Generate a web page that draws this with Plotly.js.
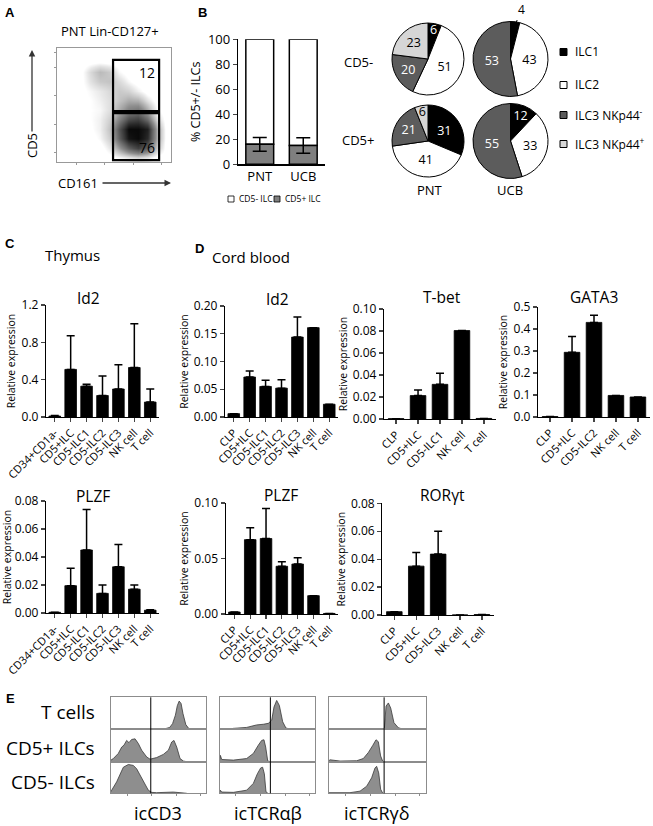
<!DOCTYPE html>
<html>
<head>
<meta charset="utf-8">
<script src="https://cdn.plot.ly/plotly-3.0.1.min.js"></script>
<style>body{margin:0;background:#fff}#fig{width:653px;height:826px}</style>
</head>
<body>
<div id="fig"></div>
<script>
const W = 653, H = 826;
const FONT = 'Open Sans, sans-serif';

// A: dot plot density, 12x12 grid, row 0 = bottom (CD161 across, CD5 up)
const densityA = [
  [0,0,0,0,0,0,0.05,0.1,0.15,0.1,0,0],
  [0,0,0,0,0,0.1,0.35,0.6,0.75,0.6,0.2,0],
  [0,0,0,0,0.06,0.18,0.6,0.95,1,0.85,0.3,0],
  [0,0,0,0.03,0.08,0.22,0.65,1,1,0.9,0.3,0],
  [0,0,0.02,0.04,0.08,0.18,0.45,0.7,0.75,0.55,0.15,0],
  [0,0,0.02,0.04,0.06,0.13,0.3,0.45,0.5,0.3,0.05,0],
  [0,0,0.02,0.04,0.08,0.13,0.22,0.3,0.28,0.12,0,0],
  [0,0,0.02,0.06,0.1,0.15,0.2,0.17,0.08,0,0,0],
  [0,0,0.02,0.12,0.2,0.22,0.15,0.06,0,0,0,0],
  [0,0,0.02,0.15,0.25,0.2,0.06,0,0,0,0,0],
  [0,0,0,0.02,0.04,0.02,0,0,0,0,0,0],
  [0,0,0,0,0,0,0,0,0,0,0,0]
];
const gateX = [5.4, 10.25];
const gateHighY = [4.87, 10.25];
const gateLowY = [-0.3, 4.65];
const gatePct = [12, 76];

// B
const donors = ['PNT', 'UCB'];
const cd5posPct = [16, 15];
const cd5posErr = [5.5, 6.2];

// pies
const pieLabels = ['ILC1', 'ILC2', 'ILC3 NKp44<sup>-</sup>', 'ILC3 NKp44<sup>+</sup>'];
const pieColors = ['#000000', '#ffffff', '#5c5c5c', '#d6d6d6'];
const pieTextColors = ['white', 'black', 'white', 'black'];
const pntNeg = [6, 51, 20, 23];
const ucbNeg = [4, 43, 53, 0];
const pntPos = [31, 41, 21, 6];
const ucbPos = [12, 33, 55, 0];

// C thymus
const thyCats = ['CD34+CD1a-', 'CD5+ILC', 'CD5-ILC1', 'CD5-ILC2', 'CD5-ILC3', 'NK cell', 'T cell'];
const thyId2 = [0.01, 0.51, 0.33, 0.23, 0.30, 0.53, 0.16];
const thyId2Err = [0.005, 0.36, 0.02, 0.21, 0.26, 0.47, 0.14];
const thyPlzf = [0.0005, 0.0195, 0.045, 0.014, 0.033, 0.017, 0.002];
const thyPlzfErr = [0, 0.0125, 0.029, 0.006, 0.016, 0.003, 0.0003];

// D cord blood
const cbCats = ['CLP', 'CD5+ILC', 'CD5-ILC1', 'CD5-ILC2', 'CD5-ILC3', 'NK cell', 'T cell'];
const cbId2 = [0.006, 0.072, 0.055, 0.052, 0.144, 0.161, 0.023];
const cbId2Err = [0, 0.011, 0.011, 0.015, 0.036, 0, 0];
const cbPlzf = [0.0018, 0.067, 0.068, 0.043, 0.045, 0.0165, 0.0005];
const cbPlzfErr = [0, 0.0106, 0.027, 0.004, 0.0056, 0, 0];
const tbetCats = ['CLP', 'CD5+ILC', 'CD5-ILC1', 'NK cell', 'T cell'];
const tbet = [0.0003, 0.0213, 0.0315, 0.0804, 0.0005];
const tbetErr = [0, 0.005, 0.01, 0, 0];
const gataCats = ['CLP', 'CD5+ILC', 'CD5-ILC2', 'NK cell', 'T cell'];
const gata3 = [0.002, 0.294, 0.43, 0.098, 0.091];
const gata3Err = [0, 0.072, 0.032, 0, 0];
const rorCats = ['CLP', 'CD5+ILC', 'CD5-ILC3', 'NK cell', 'T cell'];
const rorgt = [0.0024, 0.035, 0.0436, 0, 0.0003];
const rorgtErr = [0, 0.0098, 0.0164, 0, 0];

// E histograms (x = fraction of box width, y = fraction of row height)
const histRows = ['T cells', 'CD5+ ILCs', 'CD5- ILCs'];
const histStains = ['icCD3', 'icTCRαβ', 'icTCRγδ'];
const gatePos = [0.42, 0.53, 0.57];
const cd3TX = [0.55,0.58,0.62,0.65,0.68,0.7,0.72,0.74,0.76,0.79,0.82,0.85];
const cd3TY = [0,0.02,0.06,0.18,0.45,0.75,0.9,0.82,0.5,0.15,0.03,0];
const cd3PosX = [0,0.025,0.077,0.113,0.137,0.165,0.19,0.218,0.254,0.289,0.324,0.377,0.412,0.482,0.553,0.606,0.641,0.665,0.694,0.729,0.764,0.8];
const cd3PosY = [0.05,0.1,0.26,0.46,0.52,0.67,0.6,0.7,0.72,0.57,0.36,0.15,0.08,0.13,0.23,0.36,0.62,0.67,0.46,0.1,0.02,0];
const cd3NegX = [0,0.007,0.06,0.095,0.13,0.183,0.236,0.271,0.306,0.349,0.394,0.43,0.482,0.658,0.729,0.8];
const cd3NegY = [0.05,0.1,0.37,0.63,0.84,0.93,0.9,0.79,0.58,0.32,0.1,0.03,0.02,0.04,0.01,0];
const abTX = [0.1,0.143,0.282,0.387,0.456,0.509,0.544,0.568,0.596,0.624,0.659,0.693,0.735];
const abTY = [0,0.03,0.06,0.14,0.16,0.19,0.29,0.71,0.92,0.76,0.24,0.04,0.01];
const abPosX = [0,0.007,0.021,0.143,0.282,0.352,0.404,0.439,0.463,0.481,0.502,0.52];
const abPosY = [0.05,0.2,0.07,0.05,0.1,0.26,0.52,0.67,0.69,0.46,0.03,0];
const abNegX = [0,0.007,0.021,0.143,0.282,0.352,0.394,0.429,0.449,0.467,0.484,0.502];
const abNegY = [0.04,0.1,0.04,0.03,0.1,0.32,0.63,0.82,0.84,0.63,0.05,0.01];
const gdTX = [0.572,0.579,0.59,0.614,0.638,0.672,0.717,0.769];
const gdTY = [0,0.3,0.74,0.84,0.68,0.21,0.05,0];
const gdPosX = [0,0.01,0.114,0.286,0.355,0.407,0.452,0.486,0.51,0.534,0.555];
const gdPosY = [0.03,0.06,0.02,0.03,0.1,0.29,0.51,0.69,0.63,0.18,0.02];
const gdNegX = [0,0.01,0.217,0.321,0.39,0.441,0.476,0.493,0.514,0.534,0.555];
const gdNegY = [0.02,0.02,0.02,0.07,0.23,0.5,0.82,0.87,0.66,0.13,0.01];

const data = [];
const layout = {
  width: W, height: H,
  margin: {l: 0, r: 0, t: 0, b: 0},
  showlegend: false,
  barmode: 'overlay',
  paper_bgcolor: 'white',
  plot_bgcolor: 'rgba(0,0,0,0)',
  font: {family: FONT, color: 'black'},
  uniformtext: {mode: 'show', minsize: 12},
  annotations: [],
  shapes: []
};

function px(x) { return x / W; }
function py(y) { return 1 - y / H; }

let axN = 0;
function newAxes(x0, x1, top, bot, xopt, yopt) {
  axN++;
  const s = axN === 1 ? '' : String(axN);
  layout['xaxis' + s] = Object.assign({domain: [px(x0), px(x1)], anchor: 'y' + s, fixedrange: true}, xopt);
  layout['yaxis' + s] = Object.assign({domain: [py(bot), py(top)], anchor: 'x' + s, fixedrange: true}, yopt);
  return {x: 'x' + s, y: 'y' + s};
}

function label(x, y, t, size, opt) {
  layout.annotations.push(Object.assign({
    xref: 'paper', yref: 'paper', x: px(x), y: py(y), text: t, showarrow: false,
    font: {size: size}, xanchor: 'center', yanchor: 'middle'
  }, opt || {}));
}

const LETTER = {size: 13, family: 'Liberation Sans, Arial, sans-serif', weight: 'bold'};
label(10, 12, 'A', 13, {font: LETTER});
label(202, 12, 'B', 13, {font: LETTER});
label(10, 243, 'C', 13, {font: LETTER});
label(200, 248, 'D', 13, {font: LETTER});
label(10, 698, 'E', 13, {font: LETTER});

// ---- A
const axA = newAxes(57, 171, 48, 162,
  {range: [-0.5, 11.5], showline: true, mirror: true, linecolor: '#999', linewidth: 1,
   ticks: 'outside', ticklen: 2, tickcolor: '#999', tickvals: [1.5, 4.5, 7.5, 10.5],
   showticklabels: false, showgrid: false, zeroline: false},
  {range: [-0.5, 11.5], showline: true, mirror: true, linecolor: '#999', linewidth: 1,
   ticks: 'outside', ticklen: 2, tickcolor: '#999', tickvals: [0.5, 3.5, 6.5, 9.5, 11],
   showticklabels: false, showgrid: false, zeroline: false});
data.push({
  type: 'heatmap', z: densityA, xaxis: axA.x, yaxis: axA.y, zmin: 0, zmax: 1,
  zsmooth: 'best', showscale: false, hoverinfo: 'skip',
  colorscale: [[0, '#ffffff'], [0.04, '#ffffff'], [0.1, '#e8e8e8'], [0.4, '#8c8c8c'], [1, '#0a0a0a']]
});
[gateHighY, gateLowY].forEach((gy, i) => {
  layout.shapes.push({type: 'rect', xref: axA.x, yref: axA.y, x0: gateX[0], x1: gateX[1],
    y0: gy[0], y1: gy[1], line: {color: 'black', width: 2.2}});
  layout.annotations.push({xref: axA.x, yref: axA.y, x: gateX[1], y: i === 0 ? gy[1] : gy[0],
    xanchor: 'right', yanchor: i === 0 ? 'top' : 'bottom', xshift: -2, yshift: i === 0 ? -1 : 1,
    text: String(gatePct[i]), showarrow: false, font: {size: 14}});
});
label(110, 31, 'PNT Lin-CD127+', 13);
label(32, 146, 'CD5', 13, {textangle: -90});
label(78, 183, 'CD161', 13);
layout.annotations.push({xref: 'paper', yref: 'paper', x: px(32), y: py(50), ax: 0, ay: 83,
  text: '', showarrow: true, arrowhead: 2, arrowsize: 1, arrowwidth: 1.3, arrowcolor: '#333'});
layout.annotations.push({xref: 'paper', yref: 'paper', x: px(171), y: py(183), ax: -70, ay: 0,
  text: '', showarrow: true, arrowhead: 2, arrowsize: 1, arrowwidth: 1.3, arrowcolor: '#333'});

// ---- B
const axB = newAxes(238, 325, 39.3, 164.3,
  {type: 'category', range: [-0.5, 1.5], showline: true, linecolor: 'black', linewidth: 1.2,
   ticks: '', tickfont: {size: 13}, showgrid: false, zeroline: false},
  {range: [0, 100], dtick: 20, showline: true, linecolor: 'black', linewidth: 1.2,
   ticks: 'outside', ticklen: 4, tickwidth: 1.2, tickfont: {size: 13}, showgrid: false, zeroline: false,
   title: {text: '% CD5+/- ILCs', font: {size: 12.5}, standoff: 4}});
data.push({type: 'bar', x: donors, y: cd5posPct.map(v => 100 - v), base: cd5posPct,
  xaxis: axB.x, yaxis: axB.y, width: 0.64, hoverinfo: 'skip',
  marker: {color: 'white', line: {color: 'black', width: 1.5}}});
data.push({type: 'bar', x: donors, y: cd5posPct, xaxis: axB.x, yaxis: axB.y, width: 0.64, hoverinfo: 'skip',
  marker: {color: '#7f7f7f', line: {color: 'black', width: 1.5}},
  error_y: {type: 'data', array: cd5posErr, color: 'black', thickness: 1.5, width: 7}});
layout.shapes.push({type: 'rect', xref: 'paper', yref: 'paper', x0: px(228), x1: px(234), y0: py(202), y1: py(196),
  fillcolor: 'white', line: {color: 'black', width: 0.8}});
layout.shapes.push({type: 'rect', xref: 'paper', yref: 'paper', x0: px(274), x1: px(280), y0: py(202), y1: py(196),
  fillcolor: '#7f7f7f', line: {color: 'black', width: 0.8}});
label(237, 199, 'CD5- ILC', 8.5, {xanchor: 'left'});
label(283, 199, 'CD5+ ILC', 8.5, {xanchor: 'left'});

// ---- pies
function pie(vals, cx, cy, r) {
  data.push({
    type: 'pie', values: vals, labels: pieLabels, sort: false, direction: 'clockwise', rotation: 0,
    domain: {x: [px(cx - r), px(cx + r)], y: [py(cy + r), py(cy - r)]},
    marker: {colors: pieColors, line: {color: 'black', width: 1}},
    text: vals.map(v => v >= 5 ? String(v) : ''), textinfo: 'text', textposition: 'inside',
    insidetextorientation: 'horizontal', textfont: {size: 12.5, color: pieTextColors},
    hoverinfo: 'skip', showlegend: false
  });
}
pie(pntNeg, 428, 59, 36);
pie(ucbNeg, 510.5, 59, 37.5);
pie(pntPos, 428, 141, 36);
pie(ucbPos, 510.5, 141, 37.5);
// callout for the thin ILC1 slice of UCB CD5-
layout.annotations.push({xref: 'paper', yref: 'paper', x: px(516), y: py(23), ax: 5, ay: -13,
  text: String(ucbNeg[0]), showarrow: true, arrowhead: 0, arrowwidth: 1, arrowcolor: 'black',
  font: {size: 12}, yanchor: 'middle'});
label(358, 62, 'CD5-', 13);
label(358, 140, 'CD5+', 13);
label(430, 190, 'PNT', 13);
label(510, 190, 'UCB', 13);
const legY = [52, 85, 115, 144];
pieLabels.forEach((lab, i) => {
  layout.shapes.push({type: 'rect', xref: 'paper', yref: 'paper', x0: px(560), x1: px(567),
    y0: py(legY[i] + 3.5), y1: py(legY[i] - 3.5), fillcolor: pieColors[i], line: {color: 'black', width: 1}});
  label(573, legY[i], lab, 12, {xanchor: 'left'});
});

// ---- C / D bar charts
function barPanel(box, cats, vals, errs, yMax, dtick, fmt, title, tx, ty) {
  const ax = newAxes(box[0], box[1], box[2], box[3],
    {type: 'category', range: [-0.55, cats.length - 0.45], showline: true, linecolor: 'black', linewidth: 1.2,
     ticks: 'outside', ticklen: 4, tickwidth: 1.2, tickangle: -45, tickfont: {size: 11},
     showgrid: false, zeroline: false},
    {range: [0, yMax], dtick: dtick, tickformat: fmt, showline: true, linecolor: 'black', linewidth: 1.2,
     ticks: 'outside', ticklen: 4, tickwidth: 1.2, tickfont: {size: 12}, showgrid: false, zeroline: false,
     title: {text: 'Relative expression', font: {size: 10.5}, standoff: 3}});
  data.push({type: 'bar', x: cats, y: vals, xaxis: ax.x, yaxis: ax.y, width: cats.length === 7 ? 0.73 : 0.71,
    hoverinfo: 'skip', marker: {color: 'black', line: {color: 'black', width: 0.8}},
    error_y: {type: 'data', symmetric: false, array: errs, arrayminus: errs.map(() => 0),
      color: 'black', thickness: 1.5, width: 4}});
  label(tx, ty, title, 15.5);
}
label(72, 255, 'Thymus', 15);
label(251, 257, 'Cord blood', 15);
barPanel([46, 159, 305, 417], thyCats, thyId2, thyId2Err, 1.2, 0.4, '.1f', 'Id2', 89, 298);
barPanel([46, 159, 501, 613], thyCats, thyPlzf, thyPlzfErr, 0.08, 0.02, '.2f', 'PLZF', 93, 496);
barPanel([225, 338, 306, 417], cbCats, cbId2, cbId2Err, 0.2, 0.05, '.2f', 'Id2', 277, 299);
barPanel([384, 496, 309, 419], tbetCats, tbet, tbetErr, 0.1, 0.02, '.2f', 'T-bet', 442, 297);
barPanel([538, 650, 307, 417], gataCats, gata3, gata3Err, 0.5, 0.1, '.1f', 'GATA3', 594, 297);
barPanel([225.7, 338, 503, 614], cbCats, cbPlzf, cbPlzfErr, 0.1, 0.05, '.2f', 'PLZF', 281, 495);
barPanel([382.3, 494, 503.3, 615], rorCats, rorgt, rorgtErr, 0.08, 0.02, '.2f', 'RORγt', 442, 495);

// ---- E histograms
const histBoxes = [[111, 205.7], [219.7, 315.3], [329, 425.7]];
const rowEdges = [697.3, 729.3, 761.7, 793.3];
const histXs = [[cd3TX, cd3PosX, cd3NegX], [abTX, abPosX, abNegX], [gdTX, gdPosX, gdNegX]];
const histYs = [[cd3TY, cd3PosY, cd3NegY], [abTY, abPosY, abNegY], [gdTY, gdPosY, gdNegY]];
histBoxes.forEach((b, c) => {
  let firstX = null;
  for (let r = 0; r < 3; r++) {
    const bottomRow = r === 2;
    const ax = newAxes(b[0], b[1], rowEdges[r], rowEdges[r + 1],
      {range: [0, 1], showline: true, mirror: true, linecolor: '#8c8c8c', linewidth: 1,
       ticks: bottomRow ? 'outside' : '', ticklen: 2, tickcolor: '#8c8c8c',
       tickvals: [0.17, 0.43, 0.69, 0.94], showticklabels: false, showgrid: false, zeroline: false},
      {range: [0, 1.02], showline: true, mirror: true, linecolor: '#8c8c8c', linewidth: 1,
       showticklabels: false, ticks: '', showgrid: false, zeroline: false});
    if (firstX === null) firstX = ax.x;
    data.push({type: 'scatter', mode: 'lines', x: histXs[c][r], y: histYs[c][r], xaxis: ax.x, yaxis: ax.y,
      fill: 'tozeroy', fillcolor: '#8e8e8e', line: {color: '#3a3a3a', width: 0.8}, hoverinfo: 'skip'});
  }
  layout.shapes.push({type: 'line', xref: firstX, yref: 'paper', x0: gatePos[c], x1: gatePos[c],
    y0: py(rowEdges[3]), y1: py(rowEdges[0]), line: {color: 'black', width: 1}});
  label((b[0] + b[1]) / 2, 813, histStains[c], 18);
});
const rowMid = [712, 748, 782];
histRows.forEach((t, i) => label(97, rowMid[i], t, 19, {xanchor: 'right'}));

Plotly.newPlot('fig', data, layout, {staticPlot: true});
</script>
</body>
</html>
